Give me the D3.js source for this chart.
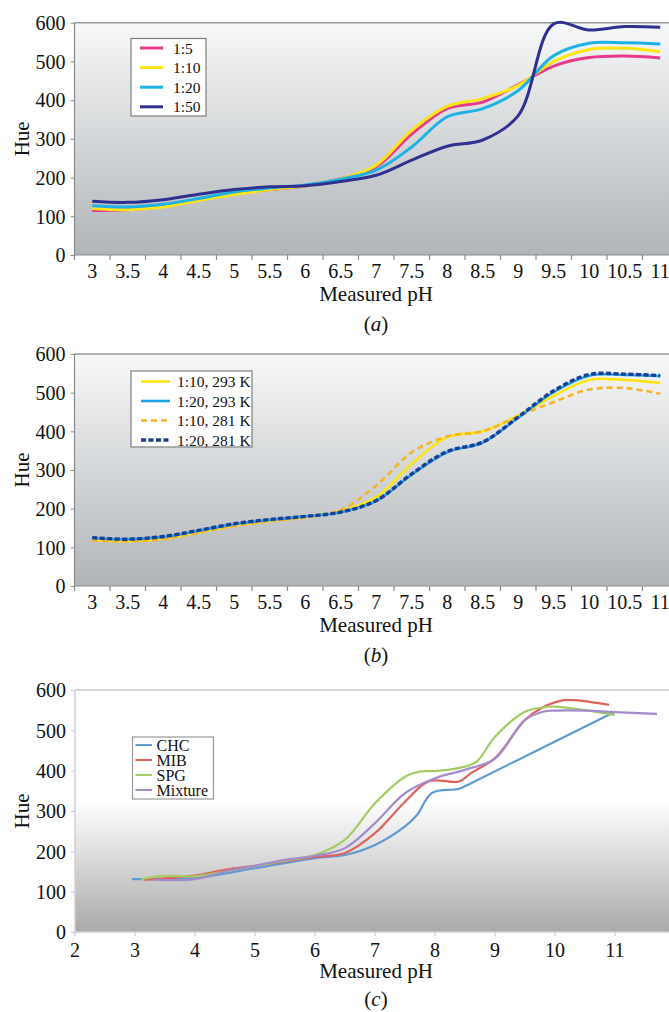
<!DOCTYPE html>
<html>
<head>
<meta charset="utf-8">
<script src="https://cdn.jsdelivr.net/npm/d3@7/dist/d3.min.js"></script>
<style>
  body { margin: 0; background: #ffffff; }
  svg { display: block; }
  text { font-family: "Liberation Serif", "Times New Roman", serif; fill: #111; }
</style>
</head>
<body>
<script>
// ---------------- DATA ----------------
const phCategories = ["3","3.5","4","4.5","5","5.5","6","6.5","7","7.5","8","8.5","9","9.5","10","10.5","11"];
const hueTicks = [0, 100, 200, 300, 400, 500, 600];

// Panel (a)
const aNames = ["1:5", "1:10", "1:20", "1:50"];
const a_1_5  = [115,117,126,144,159,169,178,197,228,312,378,395,440,488,510,514,509];
const a_1_10 = [120,117,124,141,156,169,179,197,232,322,384,404,438,500,531,534,525];
const a_1_20 = [127,124,131,146,163,173,181,196,219,279,357,378,425,515,547,548,545];
const a_1_50 = [139,136,143,157,169,176,179,190,206,245,281,297,360,597,581,590,588];

// Panel (b)
const bNames = ["1:10, 293 K", "1:20, 293 K", "1:10, 281 K", "1:20, 281 K"];
const b_10_293 = [120,116,122,139,156,168,178,194,230,316,385,400,441,492,533,533,525];
const b_20_293 = [124,121,127,143,160,171,180,191,220,288,346,371,435,502,544,546,543];
const b_10_281 = [118,116,121,138,155,167,177,197,260,346,387,400,439,476,508,512,497];
const b_20_281 = [125,121,128,144,161,172,180,191,221,290,348,372,437,505,547,548,544];

// Panel (c)
const cNames = ["CHC", "MIB", "SPG", "Mixture"];
const cTicks = [2,3,4,5,6,7,8,9,10,11];
const chcX = [2.95,3.3,4,5,6,6.5,7,7.5,7.7,7.95,8.4,8.6,11];
const chcY = [131,131,134,158,183,191,216,262,290,345,355,369,546];
const mibX = [3.15,3.5,4,4.5,5,5.5,6,6.5,7,7.5,7.9,8.4,8.6,9,9.5,9.8,10.15,10.45,10.9];
const mibY = [130,133,140,154,164,175,186,196,245,323,374,373,394,431,526,557,575,573,563];
const spgX = [3.1,3.5,4,4.5,5,5.5,6,6.5,7,7.5,7.75,8,8.5,8.7,9,9.5,9.8,10,10.5,11];
const spgY = [131,139,138,150,163,177,191,229,319,385,398,399,410,423,484,546,557,559,550,538];
const mixX = [3.3,4,4.5,5,5.5,6,6.5,7,7.5,8,8.5,9,9.5,9.8,10,10.5,11,11.7];
const mixY = [130,131,150,164,179,189,208,270,344,381,402,430,526,546,549,549,545,541];

// ---------------- DRAWING ----------------
const W = 669, H = 1012;
const svg = d3.select("body").append("svg").attr("width", W).attr("height", H);
const defs = svg.append("defs");

const gA = defs.append("linearGradient").attr("id", "gradAB").attr("x1", 0).attr("y1", 0).attr("x2", 0).attr("y2", 1);
gA.append("stop").attr("offset", "0%").attr("stop-color", "#f7f8f9");
gA.append("stop").attr("offset", "100%").attr("stop-color", "#b1b5b8");

const gC = defs.append("linearGradient").attr("id", "gradC").attr("x1", 0).attr("y1", 0).attr("x2", 0).attr("y2", 1);
gC.append("stop").attr("offset", "0%").attr("stop-color", "#ffffff");
gC.append("stop").attr("offset", "46%").attr("stop-color", "#ffffff");
gC.append("stop").attr("offset", "100%").attr("stop-color", "#a9a9a9");

const plotLeft = 74.5;
const bandW = 35.5;

function yAxis(g, y, color) {
  const ax = d3.axisLeft(y).tickValues(hueTicks).tickSize(4).tickPadding(5).tickFormat(d3.format("d"));
  g.call(ax);
  g.attr("font-family", null).attr("font-size", null);
  g.select(".domain").remove();
  g.selectAll(".tick line").attr("stroke", color);
  g.selectAll(".tick text").attr("font-family", "Liberation Serif, serif").attr("font-size", 20).attr("fill", "#111").attr("dy", "0.34em");
}

function categoryPanel(top, bottom, seriesList, legend, letter) {
  const g = svg.append("g");
  const x = d3.scaleBand().domain(phCategories).range([plotLeft, plotLeft + bandW * phCategories.length]).padding(0);
  const y = d3.scaleLinear().domain([0, 600]).range([bottom, top]);
  const cx = d => x(d) + x.bandwidth() / 2;

  g.append("rect").attr("x", plotLeft).attr("y", top).attr("width", W - plotLeft).attr("height", bottom - top).attr("fill", "url(#gradAB)");
  g.append("line").attr("x1", plotLeft).attr("x2", W).attr("y1", top).attr("y2", top).attr("stroke", "#9a9a9a").attr("stroke-width", 1.5);
  g.append("line").attr("x1", plotLeft).attr("x2", plotLeft).attr("y1", top).attr("y2", bottom).attr("stroke", "#8a8a8a").attr("stroke-width", 1.2);
  g.append("line").attr("x1", plotLeft).attr("x2", W).attr("y1", bottom).attr("y2", bottom).attr("stroke", "#8a8a8a").attr("stroke-width", 1.2);

  const bounds = phCategories.map(c => x(c)).concat([x(phCategories[phCategories.length - 1]) + x.bandwidth()]);
  g.selectAll(".xt").data(bounds).enter().append("line")
    .attr("x1", d => d).attr("x2", d => d).attr("y1", bottom).attr("y2", bottom + 5)
    .attr("stroke", "#8a8a8a").attr("stroke-width", 1.2);
  g.selectAll(".xl").data(phCategories).enter().append("text")
    .attr("x", d => cx(d)).attr("y", bottom + 23).attr("text-anchor", "middle").attr("font-size", 20).text(d => d);

  yAxis(g.append("g").attr("transform", `translate(${plotLeft},0)`), y, "#8a8a8a");

  const line = d3.line().x((d, i) => cx(phCategories[i])).y(d => y(d)).curve(d3.curveCatmullRom.alpha(0.5));
  seriesList.forEach(s => {
    g.append("path").datum(s.values).attr("d", line).attr("fill", "none")
      .attr("stroke", s.color).attr("stroke-width", s.width)
      .attr("stroke-dasharray", s.dash || null).attr("stroke-linejoin", "round");
  });

  const lg = g.append("g");
  lg.append("rect").attr("x", legend.x).attr("y", legend.y).attr("width", legend.w).attr("height", legend.h)
    .attr("fill", "#ffffff").attr("stroke", "#7f7f7f").attr("stroke-width", 1.2);
  legend.order.forEach((si, i) => {
    const s = seriesList[si];
    const ry = legend.y + legend.first + i * legend.gap;
    lg.append("line").attr("x1", legend.lx1).attr("x2", legend.lx2).attr("y1", ry).attr("y2", ry)
      .attr("stroke", s.color).attr("stroke-width", s.width).attr("stroke-dasharray", s.dash || null);
    lg.append("text").attr("x", legend.tx).attr("y", ry + 5.5).attr("font-size", 15.5).text(s.name);
  });

  g.append("text").attr("x", 376).attr("y", bottom + 46).attr("text-anchor", "middle").attr("font-size", 21).text("Measured pH");
  const lt = g.append("text").attr("x", 376).attr("y", bottom + 76).attr("text-anchor", "middle").attr("font-size", 21);
  lt.append("tspan").text("(");
  lt.append("tspan").attr("font-style", "italic").text(letter);
  lt.append("tspan").text(")");
  g.append("text").attr("transform", `translate(29,${(top + bottom) / 2}) rotate(-90)`).attr("text-anchor", "middle").attr("font-size", 21).text("Hue");
}

// Panel (a)
categoryPanel(22.7, 255, [
  { name: aNames[0], values: a_1_5,  color: "#e8398e", width: 3 },
  { name: aNames[1], values: a_1_10, color: "#fde513", width: 3 },
  { name: aNames[2], values: a_1_20, color: "#1eb1e6", width: 3 },
  { name: aNames[3], values: a_1_50, color: "#2f3190", width: 3 }
], { x: 131, y: 38.5, w: 75, h: 77.5, first: 9.5, gap: 19.6, lx1: 140, lx2: 163, tx: 173, order: [0,1,2,3] }, "a");

// Panel (b)  (drawing order: yellow, orange dashed, cyan, navy dashed)
categoryPanel(354, 586, [
  { name: bNames[0], values: b_10_293, color: "#fde513", width: 2.6 },
  { name: bNames[2], values: b_10_281, color: "#f8b323", width: 2.6, dash: "6,4" },
  { name: bNames[1], values: b_20_293, color: "#1fa3e2", width: 2.6 },
  { name: bNames[3], values: b_20_281, color: "#1e3d98", width: 3.4, dash: "5,2.5" }
], { x: 131, y: 371, w: 121, h: 76, first: 10.5, gap: 19.5, lx1: 141, lx2: 170, tx: 177, order: [0,2,1,3] }, "b");

// Panel (c)
(function () {
  const top = 690, bottom = 932;
  const g = svg.append("g");
  const x = d3.scaleLinear().domain([2, 12]).range([75, 675]);
  const y = d3.scaleLinear().domain([0, 600]).range([bottom, top]);

  g.append("rect").attr("x", 75).attr("y", top).attr("width", W - 75).attr("height", bottom - top).attr("fill", "url(#gradC)");
  g.append("line").attr("x1", 75).attr("x2", W).attr("y1", top).attr("y2", top).attr("stroke", "#d6d6d6").attr("stroke-width", 1.8);
  g.append("line").attr("x1", 75).attr("x2", 75).attr("y1", top).attr("y2", bottom).attr("stroke", "#d0d0d0").attr("stroke-width", 1.5);
  g.append("line").attr("x1", 75).attr("x2", W).attr("y1", bottom).attr("y2", bottom).attr("stroke", "#d0d0d0").attr("stroke-width", 1.5);

  g.selectAll(".xt").data(cTicks).enter().append("line")
    .attr("x1", d => x(d)).attr("x2", d => x(d)).attr("y1", bottom).attr("y2", bottom + 4)
    .attr("stroke", "#cfcfcf").attr("stroke-width", 1.2);
  g.selectAll(".xl").data(cTicks).enter().append("text")
    .attr("x", d => x(d)).attr("y", bottom + 25).attr("text-anchor", "middle").attr("font-size", 20).text(d => d);

  yAxis(g.append("g").attr("transform", "translate(75,0)"), y, "#cfcfcf");

  const series = [
    { xs: chcX, ys: chcY, color: "#5d9ad6" },
    { xs: mibX, ys: mibY, color: "#df625d" },
    { xs: spgX, ys: spgY, color: "#a3cc63" },
    { xs: mixX, ys: mixY, color: "#a28ccb" }
  ];
  const line = d3.line().x(d => x(d[0])).y(d => y(d[1])).curve(d3.curveCatmullRom.alpha(0.5));
  series.forEach(s => {
    const pts = s.xs.map((v, i) => [v, s.ys[i]]);
    g.append("path").datum(pts).attr("d", line).attr("fill", "none")
      .attr("stroke", s.color).attr("stroke-width", 2.2).attr("stroke-linejoin", "round");
  });

  const lg = g.append("g");
  lg.append("rect").attr("x", 132.5).attr("y", 737).attr("width", 81).attr("height", 62)
    .attr("fill", "#ffffff").attr("stroke", "#9a9a9a").attr("stroke-width", 1.2);
  series.forEach((s, i) => {
    const ry = 745 + i * 15;
    lg.append("line").attr("x1", 135.5).attr("x2", 152).attr("y1", ry).attr("y2", ry).attr("stroke", s.color).attr("stroke-width", 2);
    lg.append("text").attr("x", 156.5).attr("y", ry + 5.5).attr("font-size", 16).text(cNames[i]);
  });

  g.append("text").attr("x", 376).attr("y", bottom + 46).attr("text-anchor", "middle").attr("font-size", 21).text("Measured pH");
  const lt = g.append("text").attr("x", 376).attr("y", bottom + 74).attr("text-anchor", "middle").attr("font-size", 21);
  lt.append("tspan").text("(");
  lt.append("tspan").attr("font-style", "italic").text("c");
  lt.append("tspan").text(")");
  g.append("text").attr("transform", `translate(29,${(top + bottom) / 2}) rotate(-90)`).attr("text-anchor", "middle").attr("font-size", 21).text("Hue");
})();
</script>
</body>
</html>
